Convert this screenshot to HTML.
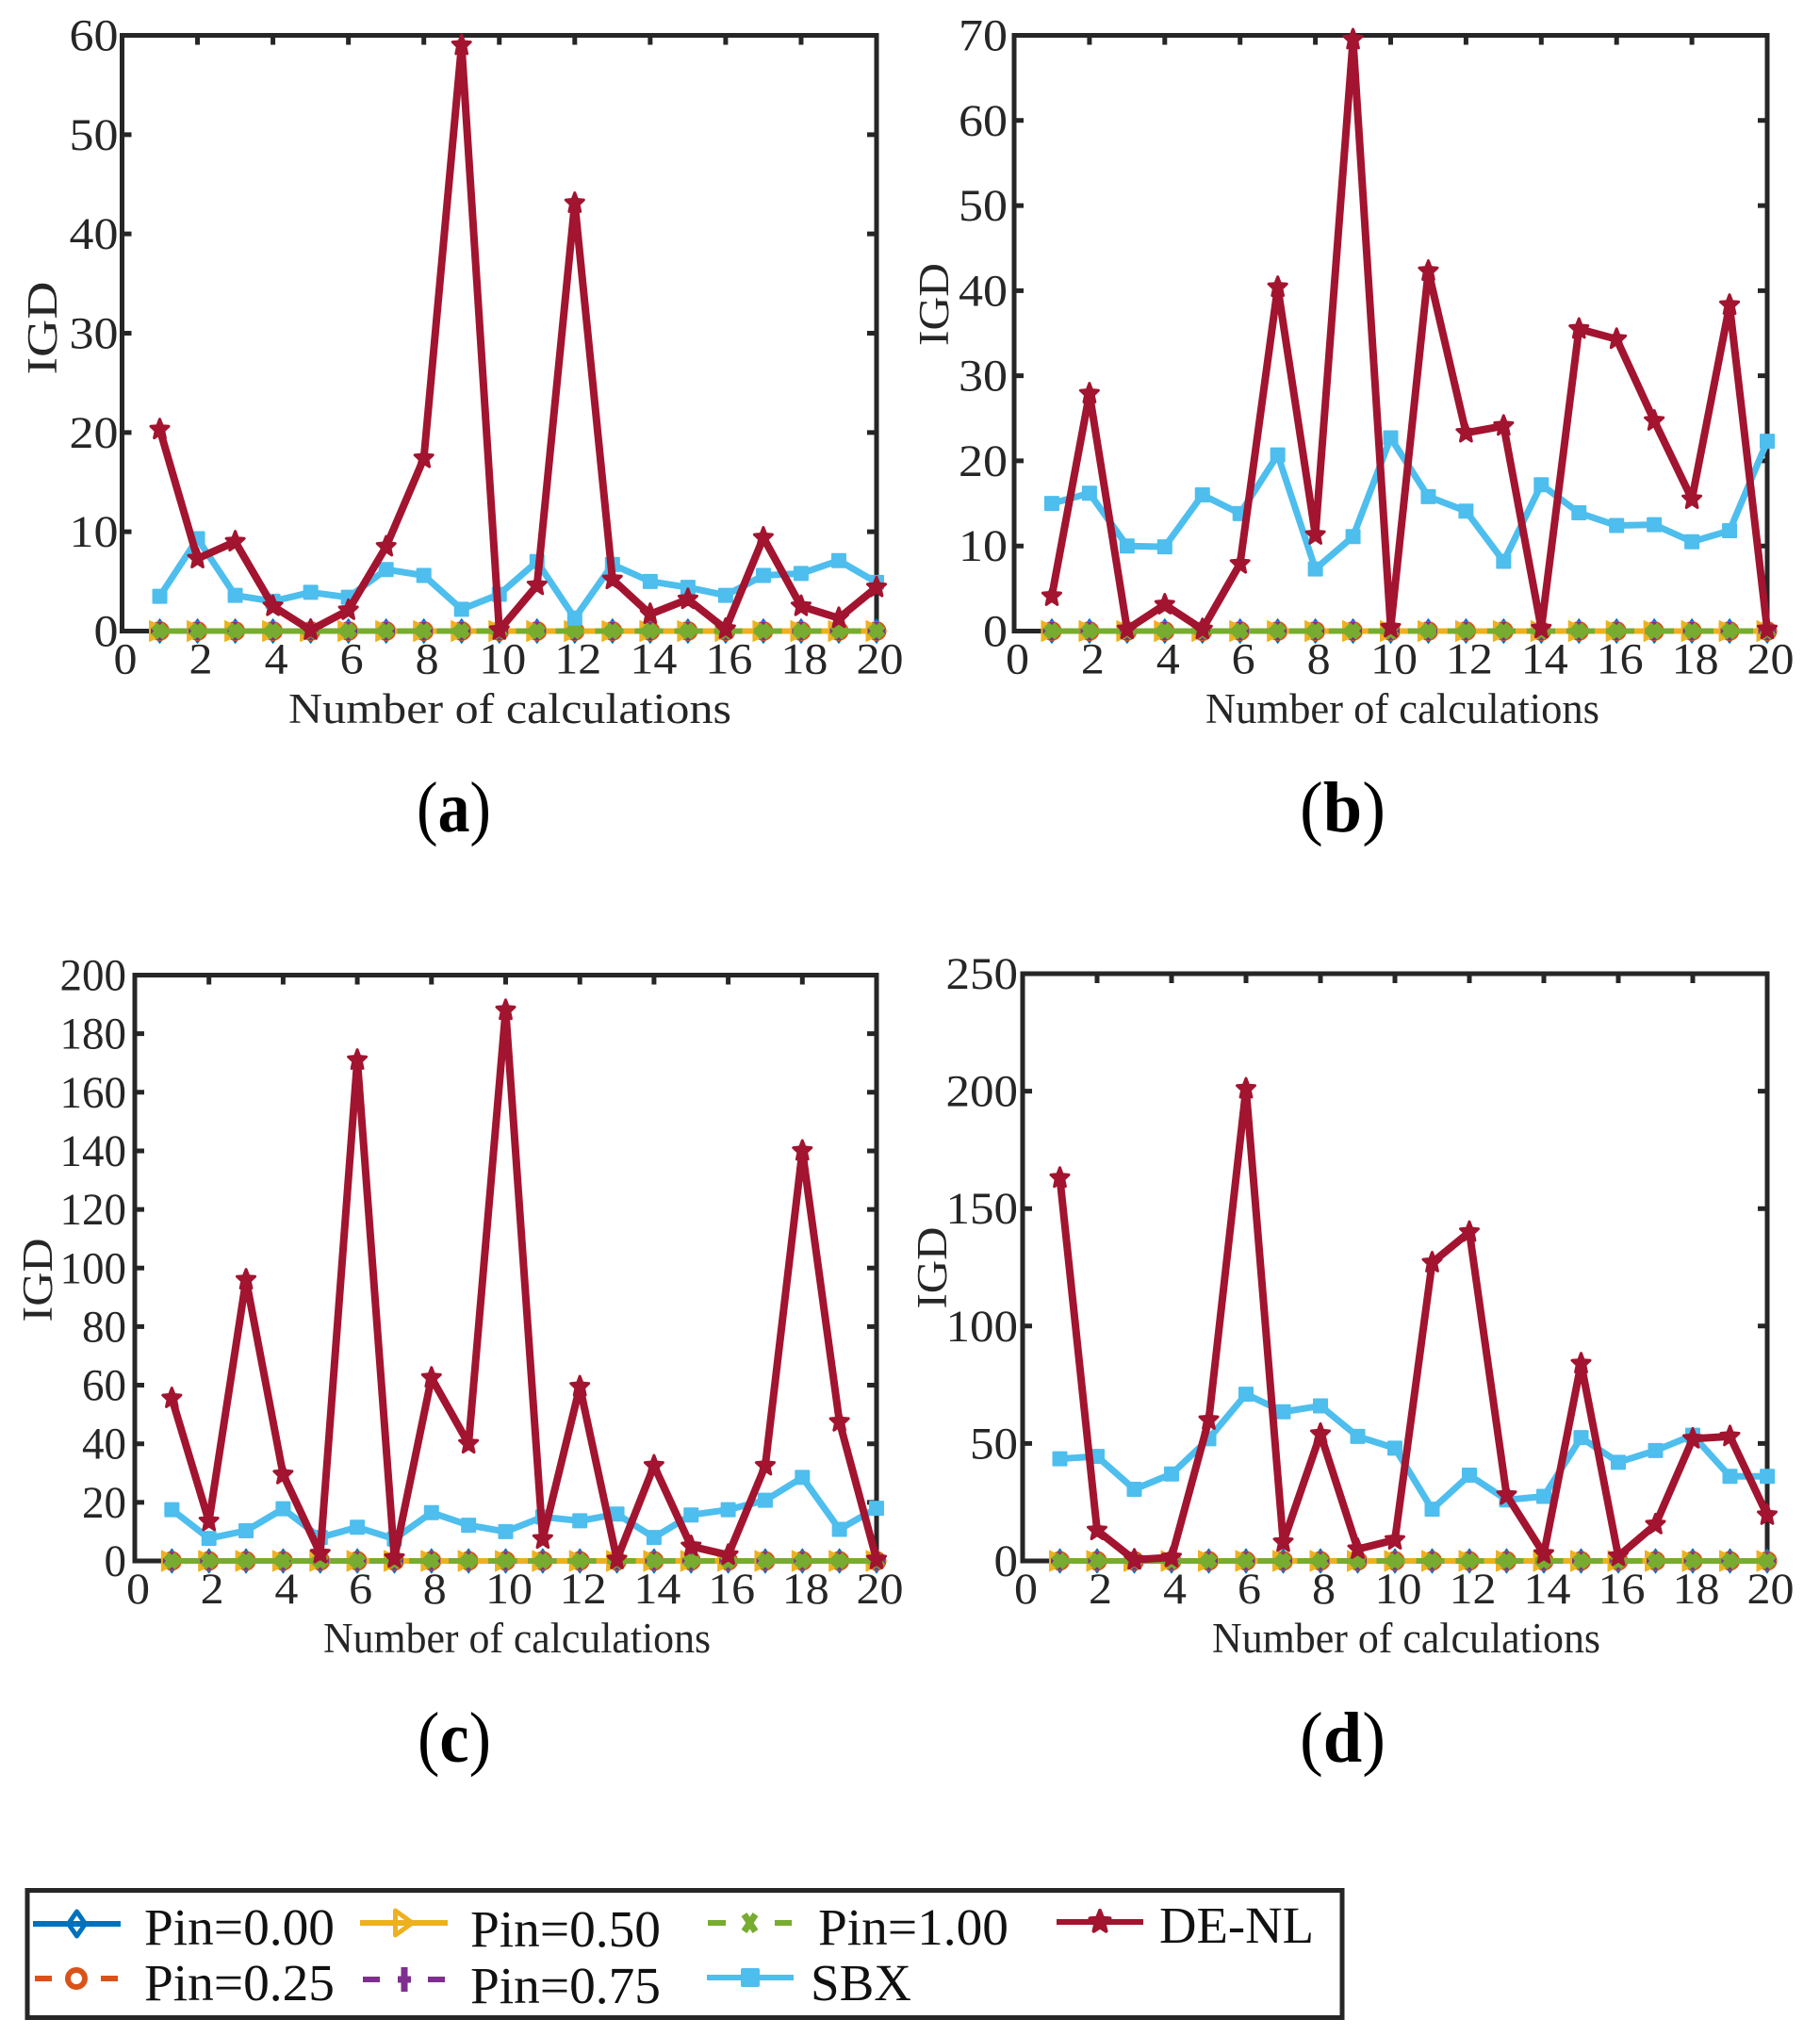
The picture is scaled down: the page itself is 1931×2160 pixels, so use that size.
<!DOCTYPE html>
<html lang="en">
<head>
<meta charset="utf-8">
<title>IGD over number of calculations</title>
<style>
html,body{margin:0;padding:0;background:#fff;width:1931px;height:2160px;overflow:hidden}
svg{display:block;position:absolute;left:0;top:0}
text{font-family:"Liberation Serif",serif;fill:#262626}
.axis-title{font-size:45px}
.legend-text{font-size:55px;fill:#111}
.caption{font-size:76px;fill:#000}
.caption tspan{font-weight:bold}
</style>
</head>
<body>
<svg id="figure" xmlns="http://www.w3.org/2000/svg" width="1931" height="2160" viewBox="0 0 1931 2160">
  <rect x="0" y="0" width="1931" height="2160" fill="#fff"/>

  <g id="panel-a"></g>
  <g id="panel-b"></g>
  <g id="panel-c"></g>
  <g id="panel-d"></g>

  <text class="axis-title" x="306" y="767" textLength="470" lengthAdjust="spacingAndGlyphs">Number of calculations</text>
  <text class="axis-title" x="1279" y="767" textLength="418" lengthAdjust="spacingAndGlyphs">Number of calculations</text>
  <text class="axis-title" x="343" y="1753" textLength="411" lengthAdjust="spacingAndGlyphs">Number of calculations</text>
  <text class="axis-title" x="1286" y="1753" textLength="412" lengthAdjust="spacingAndGlyphs">Number of calculations</text>

  <text class="axis-title" transform="translate(60 348) rotate(-90)" text-anchor="middle" textLength="99" lengthAdjust="spacingAndGlyphs">IGD</text>
  <text class="axis-title" transform="translate(1006 323) rotate(-90)" text-anchor="middle" textLength="88" lengthAdjust="spacingAndGlyphs">IGD</text>
  <text class="axis-title" transform="translate(55 1358) rotate(-90)" text-anchor="middle" textLength="89" lengthAdjust="spacingAndGlyphs">IGD</text>
  <text class="axis-title" transform="translate(1004 1345) rotate(-90)" text-anchor="middle" textLength="87" lengthAdjust="spacingAndGlyphs">IGD</text>

  <text class="caption" x="442" y="882" textLength="79" lengthAdjust="spacingAndGlyphs">(<tspan>a</tspan>)</text>
  <text class="caption" x="1379" y="882" textLength="91" lengthAdjust="spacingAndGlyphs">(<tspan>b</tspan>)</text>
  <text class="caption" x="443" y="1869" textLength="78" lengthAdjust="spacingAndGlyphs">(<tspan>c</tspan>)</text>
  <text class="caption" x="1379" y="1869" textLength="91" lengthAdjust="spacingAndGlyphs">(<tspan>d</tspan>)</text>

  <g>
    <rect x="29" y="2005.5" width="1395" height="135" fill="#fff" stroke="#262626" stroke-width="5"/>
    <g id="legend-samples"></g>
    <text class="legend-text" x="153" y="2063" textLength="202" lengthAdjust="spacingAndGlyphs">Pin=0.00</text>
    <text class="legend-text" x="153" y="2122" textLength="202" lengthAdjust="spacingAndGlyphs">Pin=0.25</text>
    <text class="legend-text" x="499" y="2065" textLength="202" lengthAdjust="spacingAndGlyphs">Pin=0.50</text>
    <text class="legend-text" x="499" y="2125" textLength="202" lengthAdjust="spacingAndGlyphs">Pin=0.75</text>
    <text class="legend-text" x="868" y="2063" textLength="202" lengthAdjust="spacingAndGlyphs">Pin=1.00</text>
    <text class="legend-text" x="860" y="2122" textLength="107" lengthAdjust="spacingAndGlyphs">SBX</text>
    <text class="legend-text" x="1230" y="2061" textLength="164" lengthAdjust="spacingAndGlyphs">DE-NL</text>
  </g>
</svg>

<script>
// ---------- chart data ----------
const categories = [1,2,3,4,5,6,7,8,9,10,11,12,13,14,15,16,17,18,19,20];
const xTickLabels = [0,2,4,6,8,10,12,14,16,18,20];

const yTicksA = [0,10,20,30,40,50,60];
const yTicksB = [0,10,20,30,40,50,60,70];
const yTicksC = [0,20,40,60,80,100,120,140,160,180,200];
const yTicksD = [0,50,100,150,200,250];

const pin000 = [0,0,0,0,0,0,0,0,0,0,0,0,0,0,0,0,0,0,0,0];
const pin025 = [0,0,0,0,0,0,0,0,0,0,0,0,0,0,0,0,0,0,0,0];
const pin050 = [0,0,0,0,0,0,0,0,0,0,0,0,0,0,0,0,0,0,0,0];
const pin075 = [0,0,0,0,0,0,0,0,0,0,0,0,0,0,0,0,0,0,0,0];
const pin100 = [0,0,0,0,0,0,0,0,0,0,0,0,0,0,0,0,0,0,0,0];

const sbxA = [3.5,9.3,3.6,3,3.9,3.4,6.2,5.6,2.2,3.7,7,1.3,6.7,5,4.4,3.6,5.6,5.8,7.1,4.9];
const deNlA = [20.3,7.3,9,2.5,0.1,2.1,8.5,17.4,59,0.1,4.6,43.1,5.2,1.7,3.2,0.2,9.4,2.5,1.3,4.4];

const sbxB = [15,16.2,10,9.9,16,13.8,20.7,7.3,11.1,22.7,15.8,14.1,8.2,17.2,13.9,12.4,12.5,10.5,11.8,22.3];
const deNlB = [4.1,27.9,0.2,3.1,0.2,7.9,40.4,11.3,69.5,0.4,42.3,23.3,24.1,0.3,35.5,34.3,24.7,15.5,38.3,0.2];

const sbxC = [17.5,7.7,10.3,17.8,8,11.5,7.5,16.5,12.2,10,15,13.7,16,8,15.7,17.5,20.7,28.5,10.8,18];
const deNlC = [55.5,13.5,96,29.5,2.5,171,1,62.5,40,188,7.5,59.5,0.5,32.5,5,2,32.5,140,47.5,0.5];

const sbxD = [43.5,44.5,30.5,37,52,71,63.5,66,53,48,22,36.5,26,27.5,52.5,42,47,53.5,36,36];
const deNlD = [163,13,0.5,1.5,60,201,8,54,5,9,127,140,28,3,84,2,15.5,52,53,19.5];

// ---------- rendering ----------
const NS = 'http://www.w3.org/2000/svg';
const INK = '#262626';
const COLORS = {p0:'#0072BD',p25:'#D95319',p50:'#EDB120',p75:'#7E2F8E',p100:'#77AC30',sbx:'#4DBEEE',de:'#A2142F'};

function mk(tag, parent){
  const el = document.createElementNS(NS, tag);
  parent.appendChild(el);
  return el;
}

function markerPath(kind, x, y, rx, ry){
  if (kind === 'diamond') return `M${x} ${y-ry}L${x+rx} ${y}L${x} ${y+ry}L${x-rx} ${y}Z`;
  if (kind === 'circle') return `M${x-rx} ${y}A${rx} ${ry} 0 1 0 ${x+rx} ${y}A${rx} ${ry} 0 1 0 ${x-rx} ${y}Z`;
  if (kind === 'triangle') return `M${x+rx} ${y}L${x-rx} ${y-ry}L${x-rx} ${y+ry}Z`;
  if (kind === 'plus') return `M${x-rx} ${y}L${x+rx} ${y}M${x} ${y-ry}L${x} ${y+ry}`;
  if (kind === 'cross') return `M${x-rx} ${y-ry}L${x+rx} ${y+ry}M${x+rx} ${y-ry}L${x-rx} ${y+ry}`;
  if (kind === 'square') return `M${x-rx} ${y-ry}H${x+rx}V${y+ry}H${x-rx}Z`;
  let d = '';
  for (let i = 0; i < 10; i++){
    const a = -Math.PI/2 + i*Math.PI/5;
    const k = i % 2 === 0 ? 1 : 0.45;
    d += (i ? 'L' : 'M') + (x + rx*k*Math.cos(a)).toFixed(1) + ' ' + (y + ry*k*Math.sin(a)).toFixed(1);
  }
  return d + 'Z';
}

function drawSeries(group, panelName, s, xs, yOf){
  const g = mk('g', group);
  
  
  const line = mk('polyline', g);
  
  
  line.setAttribute('points', s.values.map((v, i) => xs(categories[i]) + ',' + yOf(v)).join(' '));
  line.setAttribute('fill', 'none');
  line.setAttribute('stroke', s.color);
  line.setAttribute('stroke-width', s.width);
  line.setAttribute('stroke-linejoin', 'round');
  if (s.dash) line.setAttribute('stroke-dasharray', s.dash);
  s.values.forEach((v, i) => {
    const m = mk('path', g);
    
    
    m.setAttribute('d', markerPath(s.marker, xs(categories[i]), yOf(v), s.rx, s.ry));
    m.setAttribute('fill', (s.marker === 'plus' || s.marker === 'cross') ? 'none' : s.color);
    m.setAttribute('stroke', s.color);
    m.setAttribute('stroke-width', s.mw);
    m.setAttribute('stroke-linejoin', 'round');
  });
}

function drawPanel(p){
  const root = document.getElementById('panel-' + p.id);
  const panelName = 'panel-' + p.id;
  const w = p.right - p.left, h = p.bottom - p.top;
  const xs = v => p.left + (v / 20) * w;
  const ymax = p.yTicks[p.yTicks.length - 1];
  const yOf = v => p.bottom - (v / ymax) * h;

  const frame = mk('rect', root);
  
  
  frame.setAttribute('x', p.left);
  frame.setAttribute('y', p.top);
  frame.setAttribute('width', w);
  frame.setAttribute('height', h);
  frame.setAttribute('fill', 'none');
  frame.setAttribute('stroke', INK);
  frame.setAttribute('stroke-width', 5);

  xTickLabels.forEach(t => {
    const top = mk('path', root);
    
    
    top.setAttribute('d', `M${xs(t)} ${p.top}v10M${xs(t)} ${p.bottom}v-10`);
    top.setAttribute('stroke', INK);
    top.setAttribute('stroke-width', 5);
    const lab = mk('text', root);
    
    
    lab.setAttribute('x', xs(t) + 3.5);
    lab.setAttribute('y', p.bottom + 45);
    lab.setAttribute('text-anchor', 'middle');
    lab.setAttribute('font-size', 47);
    lab.setAttribute('textLength', String(t).length * 25);
    lab.setAttribute('lengthAdjust', 'spacingAndGlyphs');
    lab.textContent = t;
  });

  p.yTicks.forEach(t => {
    const tick = mk('path', root);
    
    
    tick.setAttribute('d', `M${p.left} ${yOf(t)}h10M${p.right} ${yOf(t)}h-10`);
    tick.setAttribute('stroke', INK);
    tick.setAttribute('stroke-width', 5);
    const lab = mk('text', root);
    
    
    lab.setAttribute('x', p.left - p.labelGap);
    lab.setAttribute('y', yOf(t) + 16);
    lab.setAttribute('text-anchor', 'end');
    lab.setAttribute('font-size', 48);
    lab.setAttribute('textLength', String(t).length * p.charW);
    lab.setAttribute('lengthAdjust', 'spacingAndGlyphs');
    lab.textContent = t;
  });

  const series = [
    {name:'pin-0-00', values:pin000, color:COLORS.p0,  marker:'diamond',  width:6, rx:9,   ry:13,  mw:1},
    {name:'pin-0-25', values:pin025, color:COLORS.p25, marker:'circle',   width:6, rx:10,  ry:10,  mw:1, dash:'30 12'},
    {name:'pin-0-50', values:pin050, color:COLORS.p50, marker:'triangle', width:6, rx:11,  ry:11,  mw:1},
    {name:'pin-0-75', values:pin075, color:COLORS.p75, marker:'plus',     width:6, rx:9.5, ry:9.5, mw:6, dash:'30 12'},
    {name:'pin-1-00', values:pin100, color:COLORS.p100,marker:'cross',    width:6, rx:6,   ry:6,   mw:9, dash:'30 12'},
    {name:'sbx',      values:p.sbx,  color:COLORS.sbx, marker:'square',   width:7, rx:7,   ry:7,   mw:2},
    {name:'de-nl',    values:p.de,   color:COLORS.de,  marker:'star',     width:8, rx:10,  ry:11,  mw:3}
  ];
  series.forEach(s => drawSeries(root, panelName, s, xs, yOf));
}

drawPanel({id:'a', left:129.5,right:930, top:37.5, bottom:669.5, labelGap:4,  charW:26,   yTicks:yTicksA, sbx:sbxA, de:deNlA});
drawPanel({id:'b', left:1076, right:1875,top:37.5, bottom:669.5, labelGap:7,  charW:26,   yTicks:yTicksB, sbx:sbxB, de:deNlB});
drawPanel({id:'c', left:143,  right:930, top:1034.5,bottom:1656, labelGap:9,  charW:23.5, yTicks:yTicksC, sbx:sbxC, de:deNlC});
drawPanel({id:'d', left:1085, right:1875,top:1033,  bottom:1656, labelGap:5,  charW:25.5, yTicks:yTicksD, sbx:sbxD, de:deNlD});

const legendEntries = [
  {name:'pin-0-00', x1:35,  x2:128, y:2041, color:COLORS.p0,  marker:'diamond', rx:9,  ry:13, mw:5, fill:'none'},
  {name:'pin-0-25', x1:37,  x2:125, y:2099, color:COLORS.p25, marker:'circle',  rx:9,  ry:9,  mw:6, fill:'none', dash:'18 52'},
  {name:'pin-0-50', x1:382, x2:475, y:2040, color:COLORS.p50, marker:'triangle',rx:9,  ry:13, mw:5, fill:'none'},
  {name:'pin-0-75', x1:385, x2:473, y:2100, color:COLORS.p75, marker:'plus',    rx:7,  ry:13, mw:7, fill:'none', dash:'18 51'},
  {name:'pin-1-00', x1:751, x2:840, y:2040, color:COLORS.p100,marker:'cross',   rx:6,  ry:9,  mw:7, fill:'none', dash:'19 52'},
  {name:'sbx',      x1:750, x2:842, y:2098, color:COLORS.sbx, marker:'square',  rx:8,  ry:8,  mw:4, fill:COLORS.sbx},
  {name:'de-nl',    x1:1121,x2:1213,y:2039, color:COLORS.de,  marker:'star',    rx:11, ry:12, mw:4, fill:COLORS.de}
];
const legendRoot = document.getElementById('legend-samples');
legendEntries.forEach(e => {
  const l = mk('path', legendRoot);
  
  
  l.setAttribute('d', `M${e.x1} ${e.y}H${e.x2}`);
  l.setAttribute('stroke', e.color);
  l.setAttribute('stroke-width', 6);
  if (e.dash) l.setAttribute('stroke-dasharray', e.dash);
  const m = mk('path', legendRoot);
  
  
  const cx = (e.x1 + e.x2) / 2;
  m.setAttribute('d', markerPath(e.marker, cx, e.y, e.rx, e.ry));
  m.setAttribute('fill', e.fill);
  m.setAttribute('stroke', e.color);
  m.setAttribute('stroke-width', e.mw);
  m.setAttribute('stroke-linejoin', 'round');
});
</script>
</body>
</html>
